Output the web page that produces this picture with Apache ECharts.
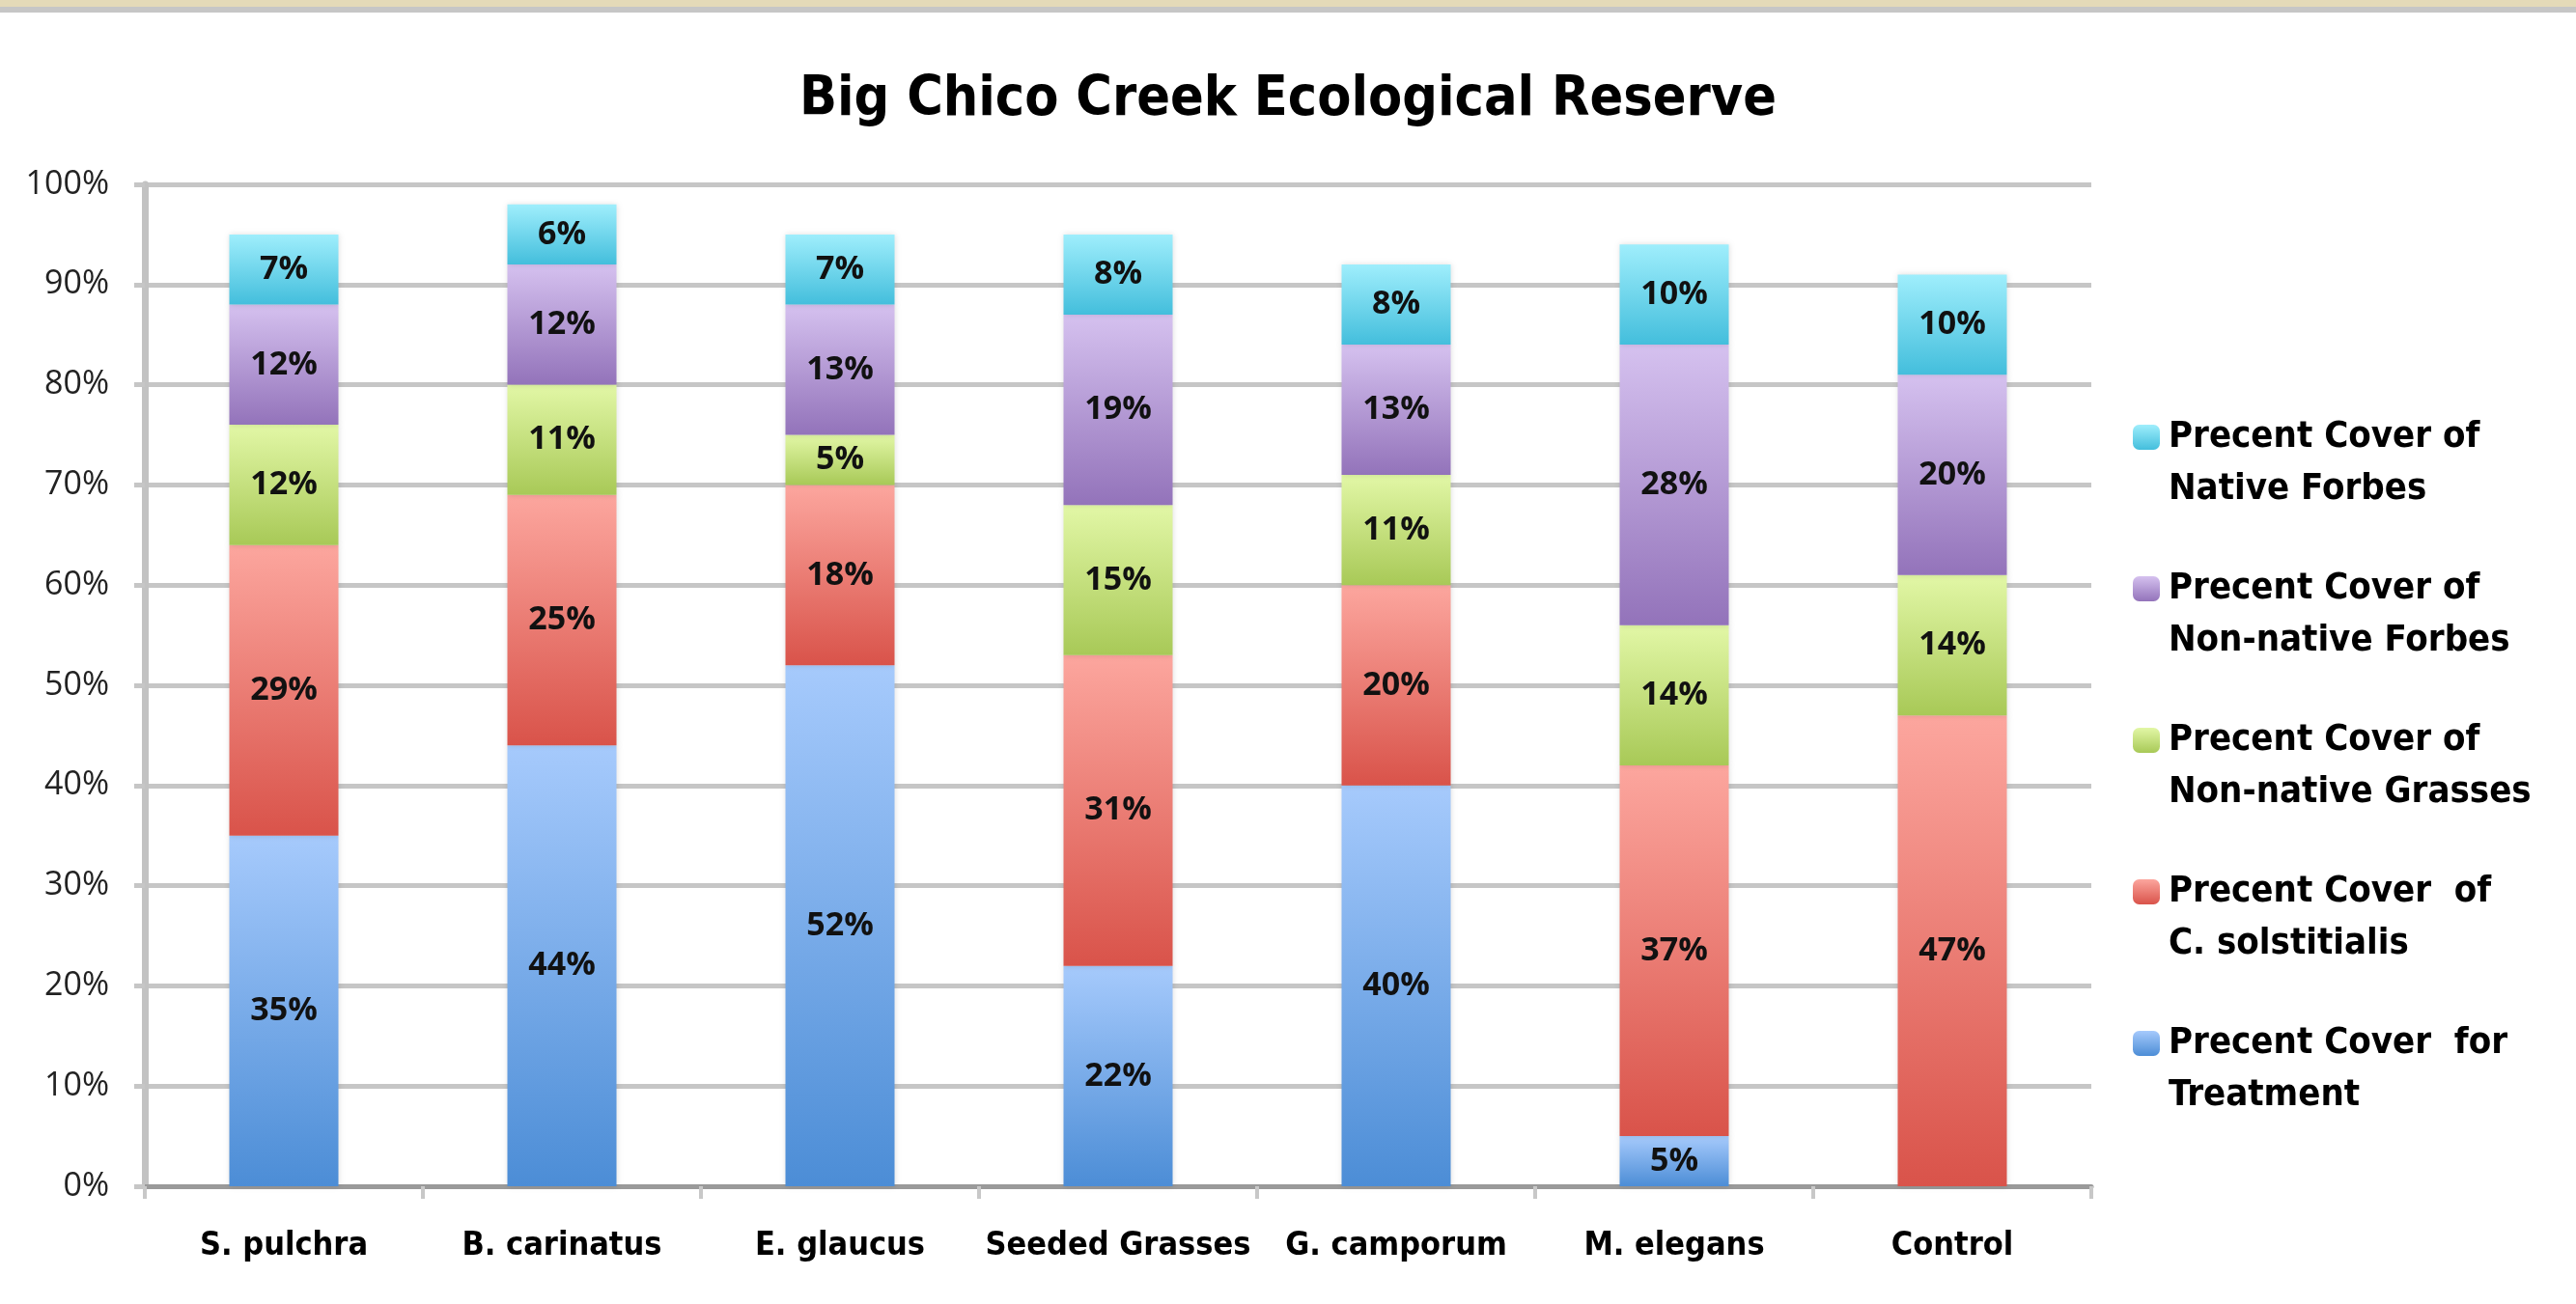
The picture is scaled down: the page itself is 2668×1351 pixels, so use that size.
<!DOCTYPE html>
<html><head><meta charset="utf-8">
<script src="https://cdn.jsdelivr.net/npm/echarts@6/dist/echarts.min.js"></script>
<style>html,body{margin:0;padding:0;background:#fff}#c{width:2668px;height:1351px}</style>
</head><body><div id="c"></div>
<script>
// ---- data ----
const categories = ['S. pulchra', 'B. carinatus', 'E. glaucus', 'Seeded Grasses', 'G. camporum', 'M. elegans', 'Control'];
const treatment    = [35, 44, 52, 22, 40, 5, 0];
const solstitialis = [29, 25, 18, 31, 20, 37, 47];
const nnGrasses    = [12, 11, 5, 15, 11, 14, 14];
const nnForbes     = [12, 12, 13, 19, 13, 28, 20];
const nativeForbes = [7, 6, 7, 8, 8, 10, 10];
const seriesNames = [
  'Precent Cover  for\nTreatment',
  'Precent Cover  of\nC. solstitialis',
  'Precent Cover of\nNon-native Grasses',
  'Precent Cover of\nNon-native Forbes',
  'Precent Cover of\nNative Forbes'
];
const titleText = 'Big Chico Creek Ecological Reserve';
const yMin = 0, yMax = 100, yStep = 10;

// ---- styles ----
const NARROW = "'DejaVu Sans Condensed', 'Liberation Sans Narrow', sans-serif";
const WIDE = "'Open Sans', 'DejaVu Sans', sans-serif";
const grads = [
  ['#a6cafc', '#4c8dd6'],
  ['#fca69e', '#d9534a'],
  ['#e2f7a6', '#a8c957'],
  ['#d5c1ef', '#9373ba'],
  ['#9feefc', '#43bedc']
];
const values = [treatment, solstitialis, nnGrasses, nnForbes, nativeForbes];

function grad(c) {
  return new echarts.graphic.LinearGradient(0, 0, 0, 1, [
    { offset: 0, color: c[0] }, { offset: 1, color: c[1] }
  ]);
}

const chart = echarts.init(document.getElementById('c'), null, { renderer: 'canvas' });

const series = values.map((v, i) => ({
  name: seriesNames[i],
  type: 'bar',
  stack: 'total',
  data: v,
  barWidth: 113,
  itemStyle: {
    color: grad(grads[i]),
    shadowColor: 'rgba(0,0,0,0.13)',
    shadowBlur: 6
  },
  label: {
    show: true,
    position: 'inside',
    formatter: p => (p.value > 0 ? p.value + '%' : ''),
    fontFamily: WIDE,
    fontWeight: 'bold',
    fontSize: 34,
    color: '#111'
  },
  emphasis: { disabled: true }
}));

chart.setOption({
  animation: false,
  backgroundColor: '#ffffff',
  graphic: [
    { type: 'rect', shape: { x: 0, y: 0, width: 2668, height: 7 }, style: { fill: '#e4dab8' }, z: 100 },
    { type: 'rect', shape: { x: 0, y: 7, width: 2668, height: 6 }, style: { fill: '#c6c6c6' }, z: 100 }
  ],
  title: {
    text: titleText,
    left: 'center',
    top: 71,
    textStyle: { fontFamily: NARROW, fontWeight: 'bold', fontSize: 57, color: '#000' }
  },
  legend: {
    orient: 'vertical',
    left: 2209,
    top: 372,
    padding: 0,
    itemWidth: 28,
    itemHeight: 26,
    itemGap: -5,
    data: seriesNames.slice().reverse(),
    formatter: name => '\n' + name,
    textStyle: { fontFamily: NARROW, fontWeight: 'bold', fontSize: 38, lineHeight: 54, color: '#000', padding: [0, 0, 0, 4] },
    selectedMode: false
  },
  grid: { left: 150, right: 502, top: 191, bottom: 122, containLabel: false },
  xAxis: {
    type: 'category',
    data: categories,
    axisLine: { show: true, lineStyle: { color: '#9a9a9a', width: 5 } },
    axisTick: { show: true, length: 13, lineStyle: { color: '#c8c8c8', width: 4 } },
    axisLabel: { interval: 0, margin: 45, fontFamily: NARROW, fontWeight: 'bold', fontSize: 34, color: '#000' }
  },
  yAxis: {
    type: 'value',
    min: yMin,
    max: yMax,
    interval: yStep,
    axisLine: { show: true, lineStyle: { color: '#c2c2c2', width: 7 } },
    axisTick: { show: true, length: 11, lineStyle: { color: '#c6c6c6', width: 5 } },
    splitLine: { show: true, lineStyle: { color: '#c6c6c6', width: 5 } },
    axisLabel: { margin: 37, formatter: '{value}%', fontFamily: WIDE, fontSize: 34, color: '#222' }
  },
  series: series
});
</script>
</body></html>
